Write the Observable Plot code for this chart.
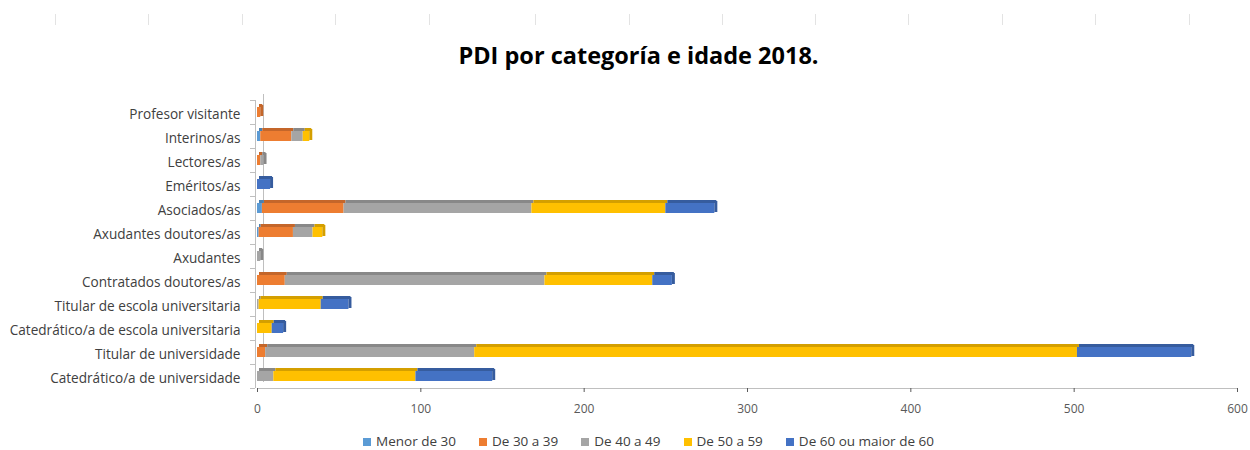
<!DOCTYPE html>
<html>
<head>
<meta charset="utf-8">
<script src="https://cdn.jsdelivr.net/npm/d3@7"></script>
<script src="https://cdn.jsdelivr.net/npm/@observablehq/plot@0.6"></script>
<style>
  html, body { margin: 0; padding: 0; background: #fff; }
  body { width: 1250px; height: 450px; position: relative; overflow: hidden; font-family: "Open Sans", Lato, sans-serif; }
  #title { position: absolute; left: 0; width: 1277px; top: 39px; text-align: center; font-weight: bold; font-size: 23.5px; color: #000; }
  #chart { position: absolute; left: 0; top: 90px; }
  #legend { position: absolute; left: 0; width: 1297px; top: 432px; display: flex; justify-content: center; gap: 23px; font-size: 13.5px; color: #404040; }
  #legend span.sw { display: inline-block; width: 8px; height: 8px; margin-right: 5px; vertical-align: 0px; }
  .gl { position: absolute; top: 14px; width: 1px; height: 11px; background: #e3e3e3; }
</style>
</head>
<body>
<div id="title">PDI por categoría e idade 2018.</div>
<div id="chart"></div>
<div id="legend"></div>
<script>
// ---- data ----
const categories = [
  "Profesor visitante",
  "Interinos/as",
  "Lectores/as",
  "Eméritos/as",
  "Asociados/as",
  "Axudantes doutores/as",
  "Axudantes",
  "Contratados doutores/as",
  "Titular de escola universitaria",
  "Catedrático/a de escola universitaria",
  "Titular de universidade",
  "Catedrático/a de universidade"
];
const series = ["Menor de 30", "De 30 a 39", "De 40 a 49", "De 50 a 59", "De 60 ou maior de 60"];
const colors = ["#5B9BD5", "#ED7D31", "#A5A5A5", "#FFC000", "#4472C4"];
const darkColors = ["#4A80B0", "#C4662A", "#888888", "#D49F00", "#365C9E"];
const menor30   = [0, 2, 0, 0, 3, 1, 0, 0, 0, 0, 0, 0];
const de30a39   = [2, 19, 2, 0, 50, 21, 0, 17, 0, 0, 5, 0];
const de40a49   = [0, 7, 2, 0, 115, 12, 2, 159, 1, 0, 128, 10];
const de50a59   = [0, 4, 0, 0, 82, 6, 0, 66, 38, 9, 369, 87];
const de60      = [0, 0, 0, 8, 30, 0, 0, 12, 17, 7, 70, 47];
const xTicks = [0, 100, 200, 300, 400, 500, 600];
const gridCols = [55, 148, 242, 335, 429, 535, 629, 722, 815, 908, 1002, 1095, 1189];

// ---- build table ----
const valueArrays = [menor30, de30a39, de40a49, de50a59, de60];
const rows = [];
categories.forEach((c, i) => {
  series.forEach((s, j) => {
    rows.push({category: c, series: s, value: valueArrays[j][i]});
  });
});
const ends = categories.map((c, i) => {
  let total = 0, last = 0;
  valueArrays.forEach((arr, j) => { total += arr[i]; if (arr[i] > 0) last = j; });
  return {category: c, total, series: series[last]};
});
const darkOf = Object.fromEntries(series.map((s, j) => [s, darkColors[j]]));

// decorative gridlines at top
gridCols.forEach(x => {
  const d = document.createElement("div");
  d.className = "gl"; d.style.left = x + "px";
  document.body.appendChild(d);
});

const axisColor = "#BFBFBF";
const plot = Plot.plot({
  width: 1250,
  height: 335,
  marginLeft: 257,
  marginRight: 13,
  marginTop: 10,
  marginBottom: 37,
  style: {fontFamily: "'Open Sans', Lato, sans-serif", background: "#fff"},
  x: {domain: [0, 600], ticks: xTicks, label: null},
  y: {domain: categories, padding: 0, label: null},
  color: {domain: series, range: colors},
  marks: [
    // 3D wall
    Plot.ruleX([0], {stroke: axisColor, dx: -2, strokeWidth: 1}),
    Plot.ruleX([0], {stroke: axisColor, dx: 6, dy: -6, strokeWidth: 1}),
    Plot.frame({anchor: "bottom", stroke: axisColor}),
    Plot.axisY({tickSize: 0, tickPadding: 17, dy: 2, fontSize: 13.6, color: "#404040", label: null}),
    Plot.axisY({tickSize: 5, dy: 12, dx: -2, tickFormat: () => "", color: axisColor, label: null}),
    Plot.axisY({ticks: [categories[0]], tickSize: 5, dy: -12, dx: -2, tickFormat: () => "", color: axisColor, label: null}),
    Plot.axisX({ticks: xTicks, tickSize: 4, tickPadding: 12, fontSize: 12, color: "#595959", label: null}),
    // top face of bars (3D)
    Plot.barX(rows, Plot.stackX({y: "category", x: "value", fill: (d) => darkOf[d.series], insetTop: 4, insetBottom: 17, dx: 2, order: null})),
    // front face
    Plot.barX(rows, Plot.stackX({y: "category", x: "value", fill: "series", insetTop: 7, insetBottom: 7, order: null})),
    // right side face
    Plot.barX(ends.filter(d => d.total > 0), {y: "category", x1: "total", x2: "total", insetRight: -3, insetTop: 5, insetBottom: 8, fill: (d) => darkOf[d.series]})
  ]
});
document.getElementById("chart").appendChild(plot);

// legend
const leg = document.getElementById("legend");
series.forEach((s, j) => {
  const item = document.createElement("div");
  item.innerHTML = `<span class="sw" style="background:${colors[j]}"></span>${s}`;
  leg.appendChild(item);
});
</script>
</body>
</html>
